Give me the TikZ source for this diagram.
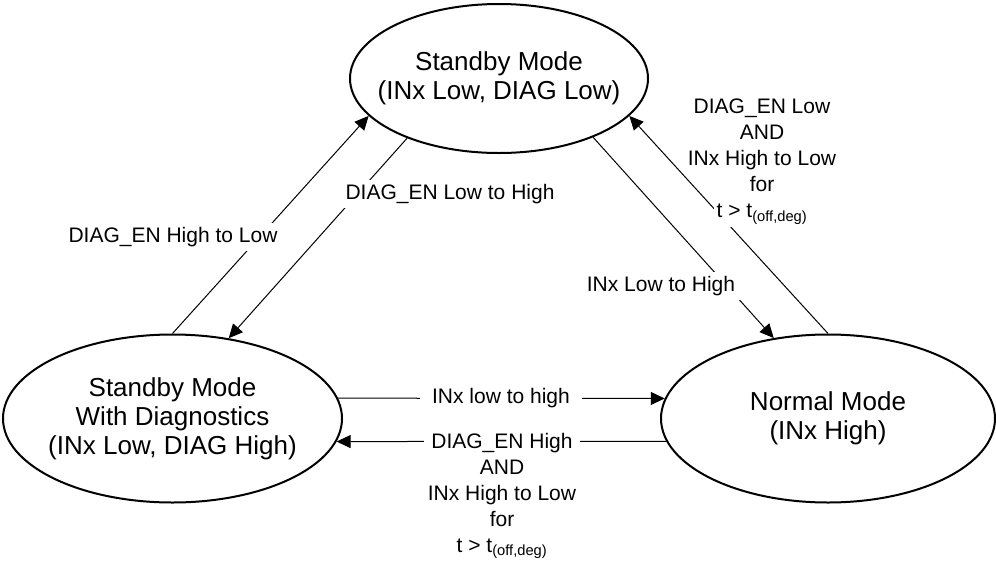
\documentclass[tikz,border=0pt]{standalone}
\usepackage{fontspec}
\setmainfont{Liberation Sans}
\usetikzlibrary{arrows.meta, shapes.geometric}
\tikzset{
    mode/.style={ellipse, draw, line width=2pt, inner sep=-20pt, minimum height=168pt, align=center, font=\fontsize{26}{29}\selectfont},
    trans/.style={-{Triangle[length=14pt, width=13pt]}, line width=1pt},
    cond/.style={fill=white, inner xsep=8pt, inner ysep=4pt, align=center, font=\fontsize{21}{26}\selectfont}
}

\begin{document}
\begin{tikzpicture}[x=1pt, y=-1pt]
    \useasboundingbox (0,0) rectangle (996,560);
    % Modes
    \node[mode, minimum width=298pt, minimum height=149pt] (stby) at (499,78.5) {Standby Mode\\(INx Low, DIAG Low)};
    \node[mode, minimum width=339pt] (diag) at (172.5,418.5) {Standby Mode\\With Diagnostics\\(INx Low, DIAG High)};
    \node[mode, minimum width=334pt] (norm) at (828,418.5) {Normal Mode\\(INx High)};

    % Transitions
    \draw[trans] (diag.90) -- (stby.196);
    \draw[trans] (stby.213) -- (diag.55);
    \draw[trans] (stby.328) -- (norm.124);
    \draw[trans] (norm.90) -- (stby.344);
    \draw[trans] (diag.7) -- (norm.173);
    \draw[trans] (norm.188) -- (diag.352);

    % Conditions
    \node[cond] (hl) at (173,237) {DIAG\_EN High to Low};
    \node[cond] (lh) at (450,194) {DIAG\_EN Low to High};
    \node[cond] (inup) at (661,286) {INx Low to High};
    \node[cond, fill=none, inner sep=0pt, anchor=north] (indown) at (762,99)
        {DIAG\_EN Low\\AND\\INx High to Low\\for\\\colorbox{white}{t > t\textsubscript{(off,deg)}}};
    \node[cond, inner xsep=12pt] (inx) at (501,398) {INx low to high};
    \node[cond, inner xsep=4pt, anchor=north] (dgen) at (502,429)
        {DIAG\_EN High\\AND\\INx High to Low\\for\\t > t\textsubscript{(off,deg)}};
\end{tikzpicture}
\end{document}
